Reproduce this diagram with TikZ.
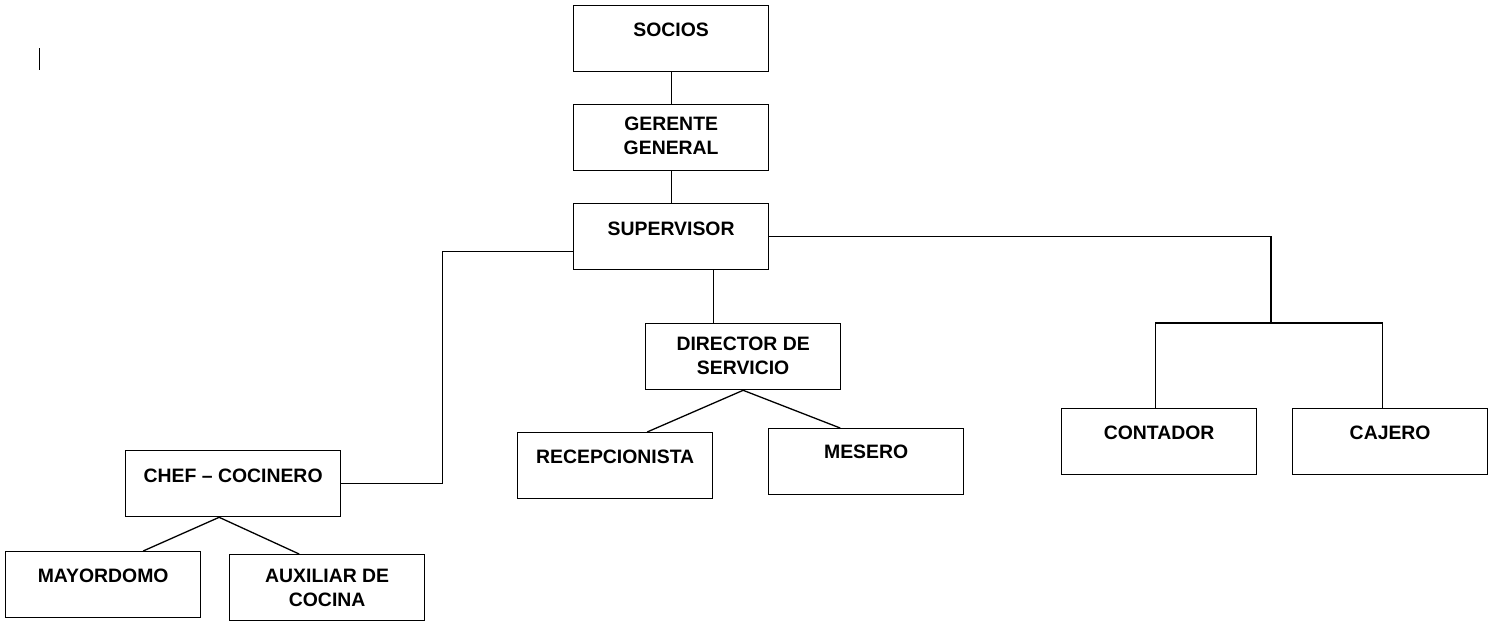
\documentclass[tikz,border=0pt]{standalone}
\usepackage{fontspec}
\setmainfont{Liberation Sans}
\newcommand\rotulo[2]{\parbox[t][66pt][t]{190pt}{\centering\vspace*{#1}#2}}
\begin{document}
\begin{tikzpicture}[x=1pt, y=-1pt, line width=1.3pt,
    caja/.style={draw, anchor=north west, inner sep=0pt, minimum width=195pt, minimum height=66pt,
      font=\bfseries\fontsize{19.4}{24.5}\selectfont}]
  \useasboundingbox (0,0) rectangle (1488,622);
  % cajas
  \node[caja] (socios) at (573,5) {\rotulo{17pt}{SOCIOS}};
  \node[caja] (gerente) at (573,104) {\rotulo{12pt}{GERENTE\\GENERAL}};
  \node[caja] (supervisor) at (573,203) {\rotulo{18pt}{SUPERVISOR}};
  \node[caja] (director) at (645,323) {\rotulo{13pt}{DIRECTOR DE\\SERVICIO}};
  \node[caja] (recepcionista) at (517,432) {\rotulo{17pt}{RECEPCIONISTA}};
  \node[caja] (mesero) at (768,428) {\rotulo{16pt}{MESERO}};
  \node[caja, minimum width=215pt] (chef) at (125,450) {\rotulo{18pt}{CHEF – COCINERO}};
  \node[caja] (mayordomo) at (5,551) {\rotulo{17pt}{MAYORDOMO}};
  \node[caja] (auxiliar) at (229,554) {\rotulo{14pt}{AUXILIAR DE\\COCINA}};
  \node[caja] (contador) at (1061,408) {\rotulo{17pt}{CONTADOR}};
  \node[caja] (cajero) at (1292,408) {\rotulo{17pt}{CAJERO}};
  % lineas
  \draw (socios.south) -- (gerente.north);
  \draw (gerente.south) -- (supervisor.north);
  \draw ([yshift=-15pt]supervisor.west) -| ([xshift=101pt]chef.east) -- (chef.east);
  \coordinate (dirarriba) at ([xshift=-30pt]director.north);
  \draw (dirarriba) -- (dirarriba |- supervisor.south);
  \draw (director.south) -- ([xshift=32pt]recepcionista.north);
  \draw (director.south) -- ([xshift=-26pt]mesero.north);
  \draw ([xshift=-14pt]chef.south) -- ([xshift=40pt]mayordomo.north);
  \draw ([xshift=-14pt]chef.south) -- ([xshift=-28pt]auxiliar.north);
  \coordinate (rama) at (1271,323);
  \draw (supervisor.east) -| (rama);
  \draw ([xshift=-4pt]contador.north) |- (rama) -| ([xshift=-8pt]cajero.north);
  % cursor
  \draw[line width=1pt] (39,48) -- (39,70);
\end{tikzpicture}
\end{document}
